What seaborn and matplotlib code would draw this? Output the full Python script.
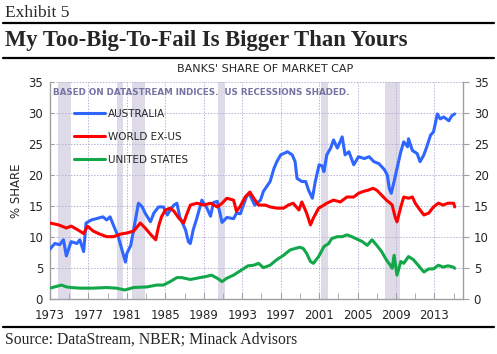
import numpy as np
import pandas as pd
import matplotlib
matplotlib.use("Agg")
import matplotlib.pyplot as plt
from matplotlib.lines import Line2D
import seaborn as sns

# values (% share of market cap)
aus_years = [1973.0, 1973.5, 1974.0, 1974.4, 1974.7, 1975.2, 1975.8, 1976.1, 1976.5, 1976.75,
             1977.3, 1977.8, 1978.5, 1978.9, 1979.25, 1979.8, 1980.1, 1980.5, 1980.85, 1981.0,
             1981.4, 1981.7, 1982.2, 1982.6, 1982.9, 1983.45, 1983.8, 1984.3, 1984.8, 1985.2,
             1985.5, 1985.9, 1986.2, 1986.5, 1987.1, 1987.4, 1987.6, 1987.9, 1988.3, 1988.8,
             1989.3, 1989.7, 1990.0, 1990.4, 1990.9, 1991.4, 1992.1, 1992.4, 1992.8, 1993.5,
             1993.8, 1994.3, 1994.9, 1995.2, 1995.9, 1996.3, 1996.6, 1997.0, 1997.3, 1997.7,
             1998.2, 1998.5, 1998.7, 1999.2, 1999.6, 1999.9, 2000.3, 2000.6, 2001.0, 2001.3,
             2001.5, 2001.8, 2002.2, 2002.5, 2002.9, 2003.4, 2003.7, 2004.1, 2004.6, 2005.1,
             2005.7, 2006.2, 2006.7, 2007.2, 2007.8, 2008.1, 2008.3, 2008.5, 2008.8, 2009.1,
             2009.5, 2009.8, 2010.2, 2010.3, 2010.7, 2011.2, 2011.5, 2011.9, 2012.2, 2012.6,
             2012.9, 2013.3, 2013.6, 2013.97, 2014.5, 2014.8, 2015.1]
aus_vals = [8.1, 9.0, 8.8, 9.6, 7.0, 9.3, 9.0, 9.6, 7.7, 12.3,
            12.8, 13.0, 13.3, 12.8, 13.3, 11.2, 10.1, 7.9, 6.0, 7.4,
            8.7, 11.2, 15.5, 14.9, 13.9, 12.5, 13.9, 14.9, 14.9, 13.6,
            14.4, 15.2, 15.5, 13.3, 11.2, 9.3, 9.0, 11.2, 13.2, 16.0,
            14.8, 13.4, 15.6, 15.8, 12.4, 13.2, 13.0, 13.9, 13.8, 16.8,
            16.8, 15.2, 16.0, 17.4, 19.0, 21.1, 22.2, 23.3, 23.5, 23.8,
            23.3, 22.2, 19.5, 19.0, 19.0, 17.6, 16.3, 19.0, 21.7, 21.5,
            20.6, 23.3, 24.4, 25.7, 24.4, 26.2, 23.3, 23.8, 21.7, 23.0,
            22.7, 23.0, 22.2, 21.9, 20.9, 20.0, 17.9, 17.1, 19.0, 21.1,
            23.8, 25.4, 24.6, 25.9, 24.0, 23.5, 22.2, 23.3, 24.6, 26.5,
            27.0, 29.9, 29.1, 29.4, 28.8, 29.6, 29.9]

wxus_years = [1973.0, 1973.9, 1974.7, 1975.2, 1975.9, 1976.5, 1976.9, 1977.5, 1978.2, 1978.9,
              1979.6, 1980.3, 1981.0, 1981.7, 1982.4, 1982.9, 1983.45, 1984.0, 1984.3, 1984.6,
              1985.0, 1985.5, 1985.9, 1986.4, 1986.9, 1987.2, 1987.6, 1988.3, 1989.0, 1989.7,
              1990.4, 1990.9, 1991.4, 1992.1, 1992.4, 1992.75, 1993.3, 1993.8, 1994.2, 1994.7,
              1995.4, 1995.9, 1996.6, 1997.3, 1997.8, 1998.3, 1998.9, 1999.2, 1999.7, 2000.1,
              2000.4, 2000.95, 2001.5, 2001.8, 2002.5, 2003.2, 2003.9, 2004.6, 2005.1, 2005.6,
              2006.1, 2006.6, 2007.0, 2007.5, 2008.0, 2008.4, 2008.6, 2008.9, 2009.1, 2009.5,
              2009.8, 2010.3, 2010.7, 2011.0, 2011.5, 2011.9, 2012.4, 2012.9, 2013.4, 2013.9,
              2014.4, 2015.0, 2015.1]
wxus_vals = [12.3, 12.0, 11.5, 11.8, 11.2, 10.6, 11.8, 11.0, 10.5, 10.1,
             10.1, 10.5, 10.7, 11.0, 12.3, 11.5, 10.5, 9.6, 11.8, 13.3,
             14.4, 14.7, 14.2, 13.1, 12.3, 13.6, 15.2, 15.5, 15.2, 15.5,
             14.9, 15.5, 16.3, 16.0, 14.2, 14.9, 16.5, 17.3, 16.3, 15.2,
             15.2, 14.9, 14.7, 14.7, 15.2, 15.5, 14.4, 15.7, 13.9, 12.0,
             13.1, 14.7, 15.2, 15.5, 16.0, 15.7, 16.5, 16.5, 17.1, 17.4,
             17.6, 17.9, 17.6, 16.8, 16.0, 15.5, 15.2, 13.3, 12.5, 14.9,
             16.5, 16.3, 16.5, 15.5, 14.4, 13.6, 13.9, 14.9, 15.5, 15.2,
             15.5, 15.5, 14.9]

us_years = [1973.0, 1974.2, 1974.7, 1975.2, 1976.1, 1977.5, 1978.9, 1979.9, 1980.8, 1981.7,
            1983.1, 1984.1, 1984.8, 1985.5, 1986.2, 1986.7, 1987.6, 1988.6, 1989.3, 1989.8,
            1990.4, 1990.9, 1991.4, 1992.1, 1992.6, 1993.1, 1993.6, 1994.2, 1994.7, 1995.2,
            1995.9, 1996.6, 1997.3, 1997.97, 1998.5, 1999.0, 1999.35, 1999.7, 2000.1, 2000.4,
            2000.95, 2001.5, 2002.0, 2002.3, 2002.9, 2003.4, 2003.9, 2004.4, 2004.95, 2005.5,
            2006.0, 2006.5, 2007.0, 2007.5, 2008.0, 2008.4, 2008.6, 2008.8, 2009.1, 2009.5,
            2009.8, 2010.3, 2010.8, 2011.3, 2011.9, 2012.4, 2012.9, 2013.4, 2013.9, 2014.4,
            2014.96, 2015.1]
us_vals = [1.8, 2.3, 2.0, 1.9, 1.8, 1.8, 1.9, 1.8, 1.5, 1.9,
           2.0, 2.3, 2.3, 2.85, 3.5, 3.5, 3.2, 3.5, 3.7, 3.9,
           3.4, 2.85, 3.4, 3.9, 4.4, 4.9, 5.4, 5.5, 5.8, 5.1,
           5.5, 6.4, 7.1, 7.95, 8.2, 8.4, 8.2, 7.4, 6.1, 5.8,
           6.9, 8.5, 9.0, 9.8, 10.1, 10.1, 10.4, 10.1, 9.7, 9.3,
           8.7, 9.6, 8.7, 7.7, 6.35, 5.5, 5.0, 7.1, 3.9, 6.1,
           5.8, 6.9, 6.4, 5.5, 4.4, 4.9, 4.9, 5.5, 5.2, 5.4,
           5.2, 5.0]

series_names = ["AUSTRALIA", "WORLD EX-US", "UNITED STATES"]
series_colors = ["#2f66ff", "#ff0000", "#12a84a"]

# US recessions (NBER), start / end in decimal years
rec_start = [1973.85, 1980.0, 1981.5, 1990.5, 2001.2, 2007.9]
rec_end = [1975.2, 1980.55, 1982.9, 1991.2, 2001.9, 2009.45]

year_ticks = list(range(1973, 2014, 4))
y_ticks = [0, 5, 10, 15, 20, 25, 30, 35]

df = pd.concat([
    pd.DataFrame({"year": aus_years, "share": aus_vals, "series": series_names[0]}),
    pd.DataFrame({"year": wxus_years, "share": wxus_vals, "series": series_names[1]}),
    pd.DataFrame({"year": us_years, "share": us_vals, "series": series_names[2]}),
])

sns.set_style("white")
plt.rcParams["font.family"] = ["DejaVu Sans"]

fig = plt.figure(figsize=(4.97, 3.54), dpi=100)
ax = fig.add_axes([0.1006, 0.1545, 0.8316, 0.613])

for s, e in zip(rec_start, rec_end):
    ax.axvspan(s, e, color="#dedae8", lw=0, zorder=0)

sns.lineplot(data=df, x="year", y="share", hue="series", palette=series_colors,
             hue_order=series_names, estimator=None, linewidth=2.2, ax=ax, zorder=3)

ax.set_xlim(1973, 2016)
ax.set_ylim(0, 35)
ax.set_xticks(year_ticks)
ax.set_xticks(np.arange(1975, 2016, 2), minor=True)
ax.set_yticks(y_ticks)
ax.grid(True, which="major", color="#b9b3d6", linestyle=(0, (1.5, 1.5)), linewidth=0.7)
ax.set_axisbelow(True)
ax.set_xlabel("")
ax.set_ylabel("% SHARE", fontsize=8.5, labelpad=4)

for side in ["left", "bottom", "right"]:
    ax.spines[side].set_color("#a0a0a0")
    ax.spines[side].set_linewidth(1.0)
ax.spines["top"].set_visible(False)

ax.tick_params(axis="x", which="both", direction="in", length=4, color="#a0a0a0",
               labelsize=8.5, pad=7, bottom=True)
ax.tick_params(axis="y", direction="in", length=3, color="#a0a0a0", labelsize=8.5, left=True,
               pad=5)

ax2 = ax.twinx()
ax2.set_ylim(0, 35)
ax2.set_yticks(y_ticks)
ax2.tick_params(axis="y", direction="out", length=4, color="#a0a0a0", labelsize=8.5, right=True)
for side in ax2.spines:
    ax2.spines[side].set_visible(False)

leg = ax.legend(loc="upper left", bbox_to_anchor=(0.035, 0.92), frameon=False, fontsize=7.5,
                handlelength=3.0, handletextpad=0.3, labelspacing=1.25)
for line in leg.get_lines():
    line.set_linewidth(2.2)

ax.text(0.008, 0.975, "BASED ON DATASTREAM INDICES.  US RECESSIONS SHADED.",
        transform=ax.transAxes, fontsize=6.3, fontweight="bold", color="#7474a4",
        ha="left", va="top")

# header and footer
fig.text(0.01, 0.964, "Exhibit 5", fontsize=12.5, family="Liberation Serif", va="center")
fig.text(0.01, 0.887, "My Too-Big-To-Fail Is Bigger Than Yours", fontsize=16.3,
         family="Liberation Serif", fontweight="bold", va="center")
fig.text(0.533, 0.805, "BANKS' SHARE OF MARKET CAP", fontsize=8, ha="center", va="center")
fig.text(0.01, 0.04, "Source: DataStream, NBER; Minack Advisors", fontsize=11.3,
         family="Liberation Serif", va="center")
for yy in [0.935, 0.836, 0.0763]:
    fig.add_artist(Line2D([0.006, 0.994], [yy, yy], transform=fig.transFigure,
                          color="black", linewidth=1.6))

fig.savefig("out.png", dpi=100)
